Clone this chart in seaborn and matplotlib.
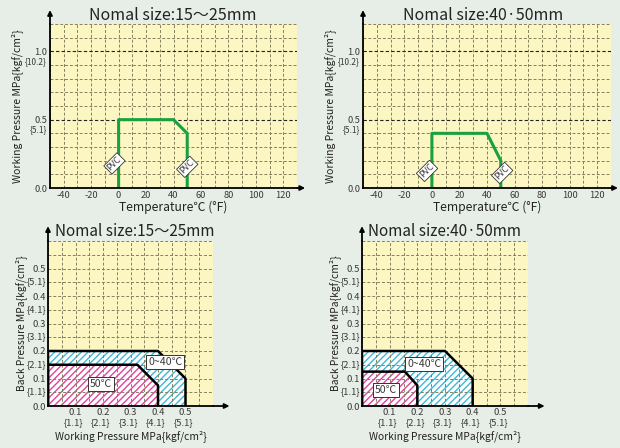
import numpy as np
import pandas as pd
import matplotlib
matplotlib.use("Agg")
import matplotlib.pyplot as plt
from matplotlib.ticker import MultipleLocator
import seaborn as sns

# ---------------- data ----------------
titles_top = ["Nomal size:15～25mm", "Nomal size:40·50mm"]
temp_ticks = [-40, -20, 0, 20, 40, 60, 80, 100, 120]
wp_top_ticks = [0.0, 0.5, 1.0]
wp_top_main = ["0.0", "0.5", "1.0"]
wp_top_sub = ["", "{5.1}", "{10.2}"]

pvc_a_temp = [0, 0, 40, 50, 50]
pvc_a_pres = [0, 0.5, 0.5, 0.4, 0]
pvc_b_temp = [0, 0, 40, 50, 50]
pvc_b_pres = [0, 0.4, 0.4, 0.2, 0]
pvc_a_labels = [(-3, 0.18), (50, 0.155)]
pvc_b_labels = [(-3.5, 0.125), (51, 0.11)]

bp_ticks = [0.0, 0.1, 0.2, 0.3, 0.4, 0.5]
bp_main = ["0.0", "0.1", "0.2", "0.3", "0.4", "0.5"]
bp_sub = ["", "{1.1}", "{2.1}", "{3.1}", "{4.1}", "{5.1}"]
wpb_ticks = [0.1, 0.2, 0.3, 0.4, 0.5]
wpb_main = ["0.1", "0.2", "0.3", "0.4", "0.5"]
wpb_sub = ["{1.1}", "{2.1}", "{3.1}", "{4.1}", "{5.1}"]

s1_cold_wp = [0, 0, 0.4, 0.5, 0.5]
s1_cold_bp = [0, 0.2, 0.2, 0.1, 0]
s1_hot_wp = [0, 0, 0.325, 0.4, 0.4]
s1_hot_bp = [0, 0.15, 0.15, 0.075, 0]
s2_cold_wp = [0, 0, 0.3, 0.4, 0.4]
s2_cold_bp = [0, 0.2, 0.2, 0.1, 0]
s2_hot_wp = [0, 0, 0.155, 0.2, 0.2]
s2_hot_bp = [0, 0.125, 0.125, 0.075, 0]
s1_cold_lab = (0.427, 0.161)
s1_hot_lab = (0.193, 0.079)
s2_cold_lab = (0.225, 0.154)
s2_hot_lab = (0.086, 0.057)
cold_text = "0~40℃"
hot_text = "50℃"

# ---------------- style ----------------
sns.set_style("white")
plt.rcParams["font.family"] = ["Noto Sans CJK JP", "DejaVu Sans"]
plt.rcParams["hatch.linewidth"] = 1.0

BG = "#e7ede7"
YEL = "#fcf6c3"
GRID = "#85805e"
GREEN = "#1aa040"
CYAN = "#3fb8d6"
PINK = "#e0459a"
TXT = "#3a3a3a"

W, H = 620, 448
fig = plt.figure(figsize=(6.2, 4.48), dpi=100)
fig.patch.set_facecolor(BG)


def px_axes(x0, y0, x1, y1):
    return fig.add_axes([x0 / W, 1 - y1 / H, (x1 - x0) / W, (y1 - y0) / H])


def base_style(ax):
    ax.set_facecolor(YEL)
    for s in ["top", "right"]:
        ax.spines[s].set_visible(False)
    for s in ["left", "bottom"]:
        ax.spines[s].set_color("black")
        ax.spines[s].set_linewidth(1.3)
        ax.spines[s].set_zorder(5)
    ax.tick_params(which="both", length=0, labelsize=6.7, colors=TXT, pad=2)
    ax.grid(which="minor", color=GRID, linestyle=(0, (3, 2)), linewidth=0.7)
    ax.set_axisbelow(False)


def arrows(ax, xt, yt):
    ap = dict(arrowstyle="-|>", color="black", lw=1.3, mutation_scale=7, shrinkA=0, shrinkB=0)
    ax.annotate("", xy=(xt, 0), xytext=(1, 0), xycoords="axes fraction", arrowprops=ap, annotation_clip=False)
    ax.annotate("", xy=(0, yt), xytext=(0, 1), xycoords="axes fraction", arrowprops=ap, annotation_clip=False)


def top_chart(ax, temp, pres, labs, xt, yt):
    base_style(ax)
    ax.set_xlim(-50, 130)
    ax.set_ylim(0, 1.2)
    ax.xaxis.set_minor_locator(MultipleLocator(10))
    ax.yaxis.set_minor_locator(MultipleLocator(0.1))
    ax.set_xticks(temp_ticks, [str(t) for t in temp_ticks])
    ax.set_yticks(wp_top_ticks, wp_top_main)
    ax.grid(which="major", axis="x", color=GRID, linestyle=(0, (3, 2)), linewidth=0.7)
    ax.grid(which="major", axis="y", color="#222222", linestyle=(0, (3, 2)), linewidth=0.8)
    df = pd.DataFrame({"t": temp, "p": pres})
    sns.lineplot(data=df, x="t", y="p", estimator=None, sort=False, color=GREEN, lw=2.2, ax=ax, zorder=4)
    for (lx, ly) in labs:
        ax.text(lx, ly, "PVC", rotation=45, ha="center", va="center", fontsize=6.3, color=TXT, zorder=6,
                bbox=dict(boxstyle="square,pad=0.15", fc="white", ec="#333333", lw=0.6))
    for v, s in zip(wp_top_ticks, wp_top_sub):
        if s:
            ax.annotate(s, xy=(0, v), xycoords=("axes fraction", "data"), xytext=(-2.5, -7.4),
                        textcoords="offset points", ha="right", va="center", fontsize=6, color=TXT)
    ax.set_xlabel("Temperature℃ (°F)", fontsize=8.7, color="#222222", labelpad=1)
    ax.set_ylabel("Working Pressure MPa{kgf/cm²}", fontsize=7.5, color="#222222", labelpad=8)
    arrows(ax, xt, yt)


def region(ax, wp, bp, col):
    ax.fill(wp, bp, facecolor="white", edgecolor=col, hatch="/////", linewidth=0, zorder=1)


def outline(ax, wp, bp):
    df = pd.DataFrame({"w": wp, "b": bp})
    sns.lineplot(data=df, x="w", y="b", estimator=None, sort=False, color="black", lw=1.8, ax=ax, zorder=4)


def box(ax, xy, s):
    ax.text(xy[0], xy[1], s, ha="center", va="center", fontsize=7.6, color=TXT, zorder=6,
            bbox=dict(boxstyle="square,pad=0.18", fc="white", ec="#333333", lw=0.7))


def bottom_chart(ax, cw, cb, hw, hb, clab, hlab):
    base_style(ax)
    ax.set_xlim(0, 0.6)
    ax.set_ylim(0, 0.6)
    ax.xaxis.set_minor_locator(MultipleLocator(0.05))
    ax.yaxis.set_minor_locator(MultipleLocator(0.05))
    ax.set_xticks(wpb_ticks, wpb_main)
    ax.set_yticks(bp_ticks, bp_main)
    ax.grid(which="major", color=GRID, linestyle=(0, (3, 2)), linewidth=0.7)
    ax.tick_params(labelsize=6.8, pad=1.5)
    region(ax, cw, cb, CYAN)
    region(ax, hw, hb, PINK)
    outline(ax, cw, cb)
    outline(ax, hw, hb)
    box(ax, clab, cold_text)
    box(ax, hlab, hot_text)
    for v, s in zip(bp_ticks, bp_sub):
        if s:
            ax.annotate(s, xy=(0, v), xycoords=("axes fraction", "data"), xytext=(-1.5, -9.6),
                        textcoords="offset points", ha="right", va="center", fontsize=6.8, color=TXT)
    for v, s in zip(wpb_ticks, wpb_sub):
        ax.annotate(s, xy=(v, 0), xycoords=("data", "axes fraction"), xytext=(-1.5, -12),
                    textcoords="offset points", ha="center", va="center", fontsize=6.8, color=TXT)
    ax.set_xlabel("Working Pressure MPa{kgf/cm²}", fontsize=7.4, color="#222222", labelpad=9.5)
    ax.set_ylabel("Back Pressure MPa{kgf/cm²}", fontsize=7.4, color="#222222", labelpad=4)
    arrows(ax, 1.10, 1.09)


ax1 = px_axes(50, 24, 297, 188)
top_chart(ax1, pvc_a_temp, pvc_a_pres, pvc_a_labels, 1.033, 1.085)
ax2 = px_axes(363, 24, 611, 188)
top_chart(ax2, pvc_b_temp, pvc_b_pres, pvc_b_labels, 1.028, 1.085)
ax3 = px_axes(48, 241, 213, 406)
bottom_chart(ax3, s1_cold_wp, s1_cold_bp, s1_hot_wp, s1_hot_bp, s1_cold_lab, s1_hot_lab)
ax4 = px_axes(362, 241, 528, 406)
bottom_chart(ax4, s2_cold_wp, s2_cold_bp, s2_hot_wp, s2_hot_bp, s2_cold_lab, s2_hot_lab)

fig.text(173 / W, 1 - 15 / H, titles_top[0], ha="center", va="center", fontsize=11.5, color="#222222")
fig.text(483 / W, 1 - 15 / H, titles_top[1], ha="center", va="center", fontsize=11.5, color="#222222")
fig.text(55 / W, 1 - 231 / H, titles_top[0], ha="left", va="center", fontsize=11, color="#222222")
fig.text(368 / W, 1 - 231 / H, titles_top[1], ha="left", va="center", fontsize=11, color="#222222")

fig.savefig("out.png", dpi=100, facecolor=BG)
